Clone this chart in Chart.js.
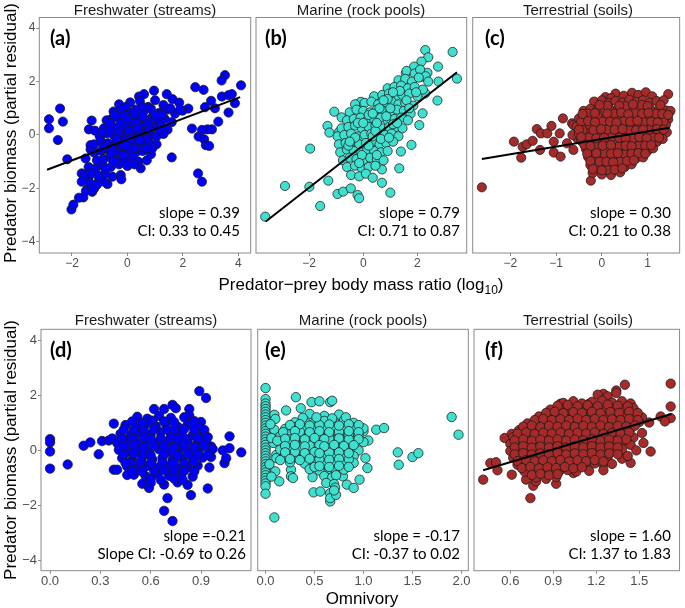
<!doctype html>
<html>
<head>
<meta charset="utf-8">
<title>Predator biomass panels</title>
<script src="https://cdn.jsdelivr.net/npm/chart.js@4.4.0/dist/chart.umd.min.js"></script>
<style>
  body { margin: 0; background: #fff; }
  #page { position: relative; width: 685px; height: 608px; overflow: hidden; }
  canvas { position: absolute; left: 0; top: 0; }
  .txt { position: absolute; white-space: nowrap; line-height: 1; }
  .strip { font-family: "Liberation Sans", Arial, sans-serif; font-size: 15px; color: #1a1a1a; transform: translate(-50%, -50%); }
  .axtitle { font-family: "Liberation Sans", Arial, sans-serif; font-size: 17px; color: #000; transform: translate(-50%, -50%); }
  .ytitle { transform: translate(-50%, -50%) rotate(-90deg); }
  .axtitle sub { font-size: 12px; vertical-align: -4px; line-height: 0; }
  .tag { font-family: Lato, sans-serif; font-weight: bold; font-size: 20px; color: #000; transform: translateY(-50%); }
  .stat { font-family: Lato, sans-serif; font-size: 15px; color: #000; transform: translate(-100%, -50%); }
</style>
</head>
<body>
<div id="page">
  <div class="txt strip" style="left:145px;top:9px">Freshwater (streams)</div>
  <div class="txt strip" style="left:361px;top:9px">Marine (rock pools)</div>
  <div class="txt strip" style="left:578px;top:9px">Terrestrial (soils)</div>
  <div class="txt strip" style="left:146px;top:319px">Freshwater (streams)</div>
  <div class="txt strip" style="left:363px;top:319px">Marine (rock pools)</div>
  <div class="txt strip" style="left:578px;top:319px">Terrestrial (soils)</div>

  <div class="txt axtitle ytitle" style="left:10px;top:133px">Predator biomass (partial residual)</div>
  <div class="txt axtitle ytitle" style="left:10px;top:450px">Predator biomass (partial residual)</div>
  <div class="txt axtitle" style="left:361px;top:284px">Predator−prey body mass ratio (log<sub>10</sub>)</div>
  <div class="txt axtitle" style="left:362px;top:598px">Omnivory</div>

  <div class="txt tag" style="left:50px;top:37px">(a)</div>
  <div class="txt tag" style="left:265px;top:37px">(b)</div>
  <div class="txt tag" style="left:485px;top:37px">(c)</div>
  <div class="txt tag" style="left:50px;top:349px">(d)</div>
  <div class="txt tag" style="left:265px;top:349px">(e)</div>
  <div class="txt tag" style="left:485px;top:349px">(f)</div>

  <div class="txt stat" style="left:240px;top:212px">slope = 0.39</div>
  <div class="txt stat" style="left:240px;top:230px">CI: 0.33 to 0.45</div>
  <div class="txt stat" style="left:460px;top:212px">slope = 0.79</div>
  <div class="txt stat" style="left:460px;top:230px">CI: 0.71 to 0.87</div>
  <div class="txt stat" style="left:671px;top:212px">slope = 0.30</div>
  <div class="txt stat" style="left:671px;top:230px">CI: 0.21 to 0.38</div>
  <div class="txt stat" style="left:246px;top:535px">slope =-0.21</div>
  <div class="txt stat" style="left:246px;top:553px">Slope CI: -0.69 to 0.26</div>
  <div class="txt stat" style="left:460px;top:535px">slope = -0.17</div>
  <div class="txt stat" style="left:460px;top:553px">CI: -0.37 to 0.02</div>
  <div class="txt stat" style="left:671px;top:535px">slope = 1.60</div>
  <div class="txt stat" style="left:671px;top:553px">CI: 1.37 to 1.83</div>
</div>

<script>
    // points: [x, partial residual]
    var streamsMass = [
        [-2.83,0.59],[-2.83,0.25],[-2.43,0.99],[-2.33,0.5],[-2.51,-0.19],[-2.17,-0.91],[-2.02,-2.79],[-1.95,-2.61],
        [-1.59,-2.34],[-1.65,-1.44],[-1.45,-2.04],[-1.39,-1.56],[-1.27,-2.13],[-1.2,-2.0],[-1.29,0.54],[-1.39,0.21],
        [-1.17,0.16],[-1.51,-0.88],[-1.33,-0.38],[-1.33,-0.54],[3.52,2.24],[3.4,2.04],[4.1,1.86],[2.45,1.79],
        [2.75,1.69],[0.96,1.66],[0.6,1.53],[0.42,1.44],[1.42,1.53],[1.63,1.34],[1.87,1.21],[3.02,1.28],
        [3.41,1.44],[3.65,1.49],[3.77,1.53],[3.88,1.19],[3.65,0.84],[3.16,1.0],[2.8,1.04],[2.2,0.99],
        [1.99,0.91],[3.28,0.5],[3.05,0.21],[2.89,0.21],[2.69,0.19],[2.33,0.24],[2.57,-0.06],[2.77,-0.16],
        [2.83,-0.38],[2.95,-0.41],[1.6,-0.84],[0.48,-1.25],[2.55,-1.44],[2.69,-1.75],[-0.54,-1.56],[-0.24,-1.5],
        [-0.22,-1.66],[-0.72,-1.84],[-0.84,-1.75],[-1.02,-1.69],
        [-0.3,1.15],[0.1,1.22],[0.45,1.27],[0.75,1.05],[1.0,1.3],[1.3,1.12],
        [-0.5,0.88],[-0.2,0.97],[0.05,0.84],[0.3,0.95],[0.6,0.9],[0.85,0.98],[1.15,0.83],[1.45,0.95],[1.72,0.8],
        [-0.75,0.55],[-0.55,0.62],[-0.3,0.66],[-0.1,0.52],[0.15,0.65],[0.4,0.58],[0.65,0.55],[0.9,0.67],[1.1,0.53],[1.35,0.6],[1.6,0.48],
        [-0.85,0.25],[-0.6,0.36],[-0.4,0.28],[-0.2,0.22],[0.0,0.37],[0.2,0.3],[0.45,0.33],[0.7,0.24],[0.95,0.31],[1.2,0.36],[1.45,0.2],
        [-1.0,-0.05],[-0.75,0.06],[-0.5,0.0],[-0.3,-0.07],[-0.05,0.05],[0.15,-0.02],[0.35,-0.05],[0.6,0.07],[0.85,0.0],[1.05,-0.06],[1.3,0.04],
        [-1.2,-0.35],[-0.95,-0.24],[-0.7,-0.31],[-0.45,-0.36],[-0.2,-0.24],[0.05,-0.3],[0.3,-0.36],[0.55,-0.25],[0.8,-0.31],[1.05,-0.35],
        [-1.2,-0.66],[-0.95,-0.6],[-0.7,-0.55],[-0.45,-0.66],[-0.2,-0.58],[0.05,-0.55],[0.3,-0.66],[0.55,-0.6],[0.85,-0.72],
        [-1.1,-0.95],[-0.85,-0.9],[-0.6,-0.84],[-0.35,-0.96],[-0.1,-0.9],[0.15,-0.85],[0.4,-1.0],[0.7,-0.95],
        [-1.4,-1.2],[-1.15,-1.26],[-0.9,-1.14],[-0.6,-1.2],[-0.3,-1.1],[0.0,-1.16],[0.25,-1.1],
        [-1.55,-1.5],[-1.3,-1.45],[-1.05,-1.52],[-0.8,-1.44],[-1.65,-1.75],[-1.35,-1.8],[-1.1,-1.86],[-1.5,-2.1],[-1.25,-2.05],[-1.75,-2.35],
        [-0.65,0.15],[-0.25,0.45],[0.25,0.8],[0.55,1.05],[0.05,0.15],[0.5,-0.45],[-0.55,-0.45],[0.2,-0.75],[-0.35,0.05],
        [0.75,0.4],[1.0,0.75],[-0.15,-0.45],[0.4,0.1],[-0.85,-0.45],[0.65,-0.15],[1.25,0.75],[0.9,-0.5],[1.55,1.0],[1.9,0.95],[-0.05,1.05],
        [-0.65,0.45],[-0.45,0.75],[-0.05,0.75],[0.3,0.45],[0.55,0.72],[0.8,0.2],[1.15,0.2],[-0.9,0.1],[-0.4,-0.15],[0.1,-0.15],
        [0.45,-0.2],[0.7,-0.5],[-0.6,-0.7],[-0.05,-0.4],[0.25,-0.5],[-0.8,-1.25],[-0.5,-1.0],[0.0,0.6],[0.35,0.25],[-0.15,-0.75]
    ];
    var poolsMass = [
        [-3.62,-3.06],[-2.89,-1.91],[-1.99,-1.94],[-1.59,-2.66],[-1.96,-0.51],[-1.29,-1.71],[-0.95,-2.21],[-0.74,-2.12],
        [-0.46,-2.0],[-0.21,-2.25],[-0.15,-2.37],[0.69,-1.79],[1.0,-2.16],[-1.07,0.87],[-0.8,0.66],[-1.32,0.34],
        [-1.25,0.09],[-0.89,0.12],[-0.86,-0.1],[-0.09,1.24],[0.44,1.31],[2.74,1.29],[2.76,2.56],[3.3,3.11],
        [3.46,2.11],[2.78,2.0],[2.29,3.18],[2.4,2.91],[2.15,2.75],[2.37,2.33],[1.88,2.56],[2.16,2.18],
        [1.57,2.31],[2.19,0.81],[2.29,1.56],[1.78,-0.37],[1.39,-0.62],[2.07,0.37],[1.33,-1.25],[0.69,-1.29],
        [1.6,2.4],[1.9,2.3],[2.1,2.45],[2.3,2.2],
        [1.3,2.05],[1.55,2.1],[1.8,2.0],[2.05,2.15],[2.4,2.0],
        [0.9,1.75],[1.15,1.8],[1.4,1.85],[1.65,1.75],[1.9,1.8],[2.2,1.7],
        [0.4,1.45],[0.7,1.5],[0.95,1.55],[1.2,1.45],[1.45,1.5],[1.7,1.55],[2.0,1.45],
        [-0.3,1.15],[0.05,1.2],[0.3,1.25],[0.55,1.15],[0.8,1.2],[1.05,1.25],[1.3,1.15],[1.55,1.2],[1.85,1.1],
        [-0.5,0.85],[-0.25,0.95],[0.0,0.9],[0.25,0.85],[0.5,0.95],[0.75,0.9],[1.0,0.85],[1.25,0.95],[1.5,0.9],[1.75,0.8],
        [-0.6,0.55],[-0.35,0.6],[-0.1,0.65],[0.15,0.55],[0.4,0.6],[0.65,0.65],[0.9,0.55],[1.15,0.6],[1.4,0.65],[1.65,0.55],
        [-0.8,0.25],[-0.55,0.3],[-0.3,0.35],[-0.05,0.25],[0.2,0.3],[0.45,0.35],[0.7,0.25],[0.95,0.3],[1.2,0.3],[1.45,0.25],
        [-0.95,-0.05],[-0.7,0.0],[-0.45,0.05],[-0.2,-0.05],[0.05,0.0],[0.3,0.05],[0.55,-0.05],[0.8,0.0],[1.05,0.05],[1.3,-0.05],
        [-0.9,-0.35],[-0.65,-0.3],[-0.4,-0.25],[-0.15,-0.35],[0.1,-0.3],[0.35,-0.25],[0.6,-0.35],[0.85,-0.3],[1.1,-0.25],
        [-0.85,-0.65],[-0.6,-0.55],[-0.35,-0.6],[-0.1,-0.65],[0.15,-0.55],[0.4,-0.6],[0.65,-0.65],[0.9,-0.6],
        [-0.75,-0.95],[-0.5,-0.85],[-0.25,-0.9],[0.0,-0.95],[0.25,-0.85],[0.5,-0.9],[0.75,-0.95],
        [-0.6,-1.2],[-0.3,-1.15],[-0.05,-1.25],[0.2,-1.2],[0.45,-1.15],
        [-0.45,-1.5],[-0.15,-1.55],[0.1,-1.45],[0.35,-1.6],
        [0.2,0.75],[0.6,1.0],[0.9,1.35],[1.1,0.4],[0.35,-0.05],[-0.2,0.45],[0.65,-0.15],[-0.55,-0.4],[1.35,1.65],
        [0.45,0.15],[1.0,1.0],[-0.05,-0.75],
        [0.0,0.45],[0.35,0.8],[0.75,1.3],[1.1,1.6],[1.6,1.3],[0.5,0.45],[0.85,0.7],[-0.3,-0.1],[0.2,-0.4],[0.5,-0.75],
        [-0.15,-1.05],[-0.5,-0.25],[1.25,0.45],[0.95,-0.1],[1.7,1.0],[1.95,1.6]
    ];
    var soilsMass = [
        [-2.62,-1.96],[-1.92,-0.25],[-1.76,-0.85],[-1.73,-0.44],[-1.64,-0.35],[-1.51,-0.22],[-1.42,0.22],[-1.35,-0.56],
        [-1.33,0.06],[-1.19,0.06],[-1.1,0.34],[-1.05,-0.25],[-1.05,-0.66],[-0.92,0.06],[-0.9,-0.81],[-0.85,0.62],
        [-0.76,-0.31],[-0.65,0.44],[-0.62,-0.56],[-0.54,-0.12],[-0.24,-1.71],[-0.62,0.37],[-0.64,0.0],
        [0.08,1.42],[0.3,1.55],[0.48,1.47],[0.66,1.58],[0.8,1.5],[0.96,1.6],[1.1,1.45],[1.45,1.53],[0.2,1.38],
        [-0.17,1.25],[0.0,1.3],[0.15,1.2],[0.3,1.28],[0.45,1.22],[0.6,1.32],[0.75,1.24],[0.9,1.3],[1.05,1.21],[1.2,1.27],[1.35,1.3],
        [-0.4,0.9],[-0.25,0.98],[-0.1,0.93],[0.05,1.0],[0.2,0.92],[0.35,0.97],[0.5,0.9],[0.65,1.0],[0.8,0.94],[0.95,0.99],[1.1,0.9],[1.25,0.96],[1.4,0.92],[1.5,0.9],
        [-0.5,0.62],[-0.35,0.68],[-0.2,0.6],[-0.05,0.66],[0.1,0.7],[0.25,0.62],[0.4,0.67],[0.55,0.6],[0.7,0.69],[0.85,0.63],[1.0,0.66],[1.15,0.61],[1.3,0.68],[1.45,0.58],
        [-0.55,0.32],[-0.4,0.38],[-0.25,0.3],[-0.1,0.36],[0.05,0.33],[0.2,0.4],[0.35,0.31],[0.5,0.37],[0.65,0.32],[0.8,0.38],[0.95,0.3],[1.1,0.36],[1.25,0.33],[1.4,0.38],
        [-0.5,0.02],[-0.35,0.08],[-0.2,0.0],[-0.05,0.06],[0.1,0.03],[0.25,0.09],[0.4,0.01],[0.55,0.07],[0.7,0.02],[0.85,0.08],[1.0,0.0],[1.15,0.06],[1.3,0.03],[1.42,0.1],
        [-0.45,-0.22],[-0.3,-0.28],[-0.15,-0.2],[0.0,-0.27],[0.15,-0.23],[0.3,-0.3],[0.45,-0.21],[0.6,-0.27],[0.75,-0.24],[0.9,-0.29],[1.05,-0.2],[1.2,-0.26],[1.33,-0.15],
        [-0.35,-0.52],[-0.2,-0.58],[-0.05,-0.5],[0.1,-0.56],[0.25,-0.53],[0.4,-0.6],[0.55,-0.51],[0.7,-0.57],[0.85,-0.54],[1.0,-0.59],[1.12,-0.5],
        [-0.3,-0.82],[-0.15,-0.88],[0.0,-0.8],[0.15,-0.86],[0.3,-0.83],[0.45,-0.9],[0.6,-0.81],[0.75,-0.87],[0.9,-0.84],
        [-0.25,-1.12],[-0.1,-1.18],[0.05,-1.1],[0.2,-1.16],[0.35,-1.13],[0.5,-1.2],[0.65,-1.1],
        [-0.2,-1.42],[0.0,-1.48],[0.2,-1.5],[0.4,-1.4],
        [0.12,1.1],[0.52,1.08],[0.88,1.12],[-0.3,0.8],[0.28,0.8],[0.72,0.82],[1.18,0.8],[-0.45,0.5],[0.02,0.5],[0.48,0.52],
        [0.92,0.48],[1.35,0.5],[-0.42,0.18],[0.12,0.2],[0.6,0.18],[1.05,0.2],[-0.27,-0.1],[0.22,-0.08],[0.68,-0.12],[1.12,-0.1],
        [-0.12,-0.4],[0.38,-0.42],[0.82,-0.4],[0.05,-0.7],[0.5,-0.72],[-0.05,-1.0],[0.4,-1.0],[0.12,-1.3],
        [-0.05,1.12],[0.38,1.1],[0.68,1.14],[1.0,1.08],[1.28,1.12],
        [-0.42,0.78],[-0.15,0.82],[0.12,0.8],[0.42,0.84],[0.58,0.78],[0.88,0.8],[1.02,0.83],[1.32,0.79],[1.45,0.75],
        [-0.3,0.52],[-0.15,0.48],[0.18,0.5],[0.32,0.47],[0.62,0.5],[0.78,0.53],[1.08,0.5],[1.22,0.47],
        [-0.5,0.2],[-0.18,0.18],[-0.02,0.22],[0.28,0.2],[0.45,0.22],[0.75,0.18],[0.9,0.2],[1.2,0.22],[1.35,0.2],
        [-0.45,-0.08],[-0.12,-0.12],[0.05,-0.1],[0.38,-0.1],[0.52,-0.12],[0.82,-0.08],[0.98,-0.12],[1.25,-0.1],
        [-0.38,-0.38],[-0.25,-0.42],[0.02,-0.4],[0.2,-0.38],[0.52,-0.4],[0.65,-0.42],[0.95,-0.4],[1.08,-0.38],
        [-0.32,-0.7],[-0.12,-0.68],[0.2,-0.7],[0.35,-0.68],[0.65,-0.7],[0.8,-0.68],[0.95,-0.7],
        [-0.25,-0.98],[0.1,-1.0],[0.25,-1.02],[0.55,-0.98],[0.7,-0.95],
        [-0.2,-1.28],[0.0,-1.32],[0.28,-1.3],[0.45,-1.25]
    ];
    var streamsOmni = [
        [0,0.41],[0,0.29],[0,-0.04],[0,-0.66],[0.105,-0.51],[0.2,0.17],[0.24,0.29],[0.29,-0.14],[0.31,0.34],[0.35,0.36],
        [0.37,0.43],[0.38,0.97],[0.38,-0.7],[0.4,-0.7],[0.46,-0.89],[0.55,-1.21],[0.59,-1.36],[0.62,1.5],[0.68,1.5],
        [0.73,1.65],[0.75,1.53],[0.83,1.5],[0.83,1.26],[0.89,2.15],[0.93,1.9],[0.9,1.03],[0.7,-1.73],[0.68,-2.19],
        [0.73,-2.56],[0.84,-1.62],[0.94,-1.38],[0.95,-0.62],[1.03,0.0],[1.07,0.08],[1.07,0.51],[1.14,-0.07],[1.04,-0.46],
        [1.05,-0.28],[0.96,-0.24],[0.96,0.14],[0.97,0.05],
        [0.52,1.22],[0.58,1.15],[0.65,1.25],[0.72,1.18],[0.8,1.2],
        [0.45,0.92],[0.51,0.85],[0.57,0.95],[0.63,0.88],[0.69,0.96],[0.76,0.86],[0.82,0.93],[0.88,0.9],
        [0.42,0.6],[0.48,0.55],[0.54,0.64],[0.6,0.57],[0.66,0.66],[0.72,0.58],[0.78,0.62],[0.85,0.55],[0.91,0.62],
        [0.4,0.27],[0.46,0.33],[0.52,0.26],[0.58,0.35],[0.64,0.28],[0.7,0.32],[0.76,0.25],[0.82,0.34],[0.88,0.29],[0.93,0.36],
        [0.41,0.02],[0.47,-0.04],[0.53,0.05],[0.59,-0.02],[0.65,0.04],[0.71,-0.05],[0.77,0.03],[0.83,-0.03],[0.89,0.05],
        [0.43,-0.28],[0.49,-0.34],[0.55,-0.26],[0.61,-0.33],[0.67,-0.27],[0.73,-0.35],[0.79,-0.29],[0.85,-0.32],[0.91,-0.26],
        [0.46,-0.58],[0.52,-0.64],[0.58,-0.56],[0.64,-0.63],[0.7,-0.57],[0.76,-0.65],[0.82,-0.6],[0.88,-0.55],
        [0.5,-0.88],[0.57,-0.94],[0.64,-0.86],[0.71,-0.92],[0.78,-0.89],[0.85,-0.95],
        [0.6,-1.18],[0.68,-1.24],[0.76,-1.16],[0.82,-1.25],
        [0.55,1.0],[0.7,0.75],[0.5,0.45],[0.62,0.15],[0.8,0.45],[0.55,-0.15],[0.74,-0.45],[0.62,-0.75],[0.68,1.05],
        [0.86,0.75],[0.48,-0.45],[0.88,-0.15],[0.5,0.75],[0.66,0.45],
        [0.49,1.05],[0.61,1.08],[0.74,1.03],[0.86,1.06],
        [0.44,0.76],[0.56,0.72],[0.62,0.78],[0.74,0.74],[0.8,0.78],[0.92,0.74],
        [0.43,0.43],[0.56,0.47],[0.6,0.42],[0.72,0.46],[0.76,0.42],[0.88,0.45],[0.94,0.48],
        [0.44,0.14],[0.5,0.18],[0.56,0.13],[0.68,0.17],[0.74,0.12],[0.8,0.16],[0.86,0.13],[0.92,0.17],
        [0.44,-0.16],[0.5,-0.12],[0.6,-0.18],[0.68,-0.14],[0.76,-0.17],[0.82,-0.12],[0.94,-0.15],
        [0.45,-0.46],[0.54,-0.42],[0.6,-0.47],[0.67,-0.43],[0.8,-0.47],[0.86,-0.43],
        [0.49,-0.74],[0.55,-0.77],[0.68,-0.72],[0.74,-0.78],[0.8,-0.74],[0.86,-0.76],
        [0.6,-1.04],[0.66,-1.07],[0.74,-1.02],[0.79,-1.06]
    ];
    var poolsOmni = [
        [0,2.26],[0,1.86],[0,1.7],[0,1.6],[0,1.5],[0,1.4],[0,1.3],[0,1.2],[0,1.1],[0,1.0],[0,0.9],[0,0.8],[0,0.7],
        [0,0.6],[0,0.5],[0,0.4],[0,0.3],[0,0.2],[0,0.1],[0,0.0],[0,-0.1],[0,-0.2],[0,-0.3],[0,-0.4],[0,-0.5],[0,-0.6],
        [0,-0.7],[0,-0.8],[0,-0.9],[0,-1.0],[0,-1.1],[0,-1.2],[0,-1.3],[0,-1.57],
        [0.09,1.29],[0.1,1.14],[0.09,0.75],[0.08,0.27],[0.11,-0.16],[0.1,-0.76],[0.14,-1.12],[0.11,-0.28],[0.05,0.95],
        [0.06,0.45],[0.04,-0.5],[0.06,-0.95],[0.09,-2.43],
        [0.31,1.93],[0.21,1.45],[0.47,1.75],[0.55,1.78],[0.66,1.75],[0.68,1.8],[0.36,1.53],[0.18,0.05],[0.26,-0.7],
        [0.26,-0.94],[0.28,-1.0],[0.48,-0.97],[0.49,-1.52],[0.56,-1.49],[0.66,-1.55],[0.66,-1.85],[0.66,-1.73],[0.72,-1.61],
        [0.79,-0.94],[0.83,-1.24],[0.9,-1.36],[0.96,-1.06],[1.04,-0.64],[1.02,-0.28],[1.0,0.69],[1.05,0.36],[1.13,0.75],
        [1.21,0.81],[1.35,-0.07],[1.36,-0.52],[1.5,-0.24],[1.56,-0.1],[1.9,1.21],[1.97,0.57],
        [0.45,1.32],[0.6,1.25],[0.75,1.3],
        [0.3,1.02],[0.4,1.08],[0.5,1.0],[0.6,1.07],[0.7,1.03],[0.8,1.09],[0.9,1.0],
        [0.2,0.78],[0.3,0.84],[0.4,0.76],[0.5,0.83],[0.6,0.79],[0.7,0.85],[0.8,0.77],[0.9,0.82],[1.0,0.8],
        [0.15,0.52],[0.25,0.58],[0.35,0.5],[0.45,0.57],[0.55,0.53],[0.65,0.59],[0.75,0.51],[0.85,0.56],[0.95,0.54],
        [0.2,0.28],[0.3,0.34],[0.4,0.26],[0.5,0.33],[0.6,0.29],[0.7,0.35],[0.8,0.27],[0.9,0.32],[1.0,0.3],
        [0.15,0.03],[0.25,0.08],[0.35,0.01],[0.45,0.07],[0.55,0.02],[0.65,0.09],[0.75,0.04],[0.85,0.06],[0.95,0.0],
        [0.2,-0.18],[0.3,-0.24],[0.4,-0.16],[0.5,-0.22],[0.6,-0.19],[0.7,-0.25],[0.8,-0.17],[0.9,-0.21],
        [0.25,-0.43],[0.4,-0.48],[0.5,-0.42],[0.6,-0.47],[0.7,-0.44],[0.8,-0.49],[0.9,-0.45],
        [0.45,-0.68],[0.55,-0.73],[0.65,-0.67],[0.72,-0.72],[0.8,-0.7],
        [0.6,-0.93],[0.68,-0.98],[0.72,-0.9],
        [0.62,-1.18],[0.7,-1.22],[0.71,-1.35],[0.7,-1.45],
        [0.35,0.68],[0.55,0.92],[0.75,0.68],[0.25,0.4],[0.65,0.42],[0.85,0.4],[0.45,0.18],[0.3,-0.05],[0.65,-0.08],
        [0.85,-0.32],[0.55,-0.32],[0.5,-0.6],[0.12,0.35],[0.15,-0.35],
        [0.38,1.18],[0.52,1.2],[0.68,1.16],[0.82,1.2],
        [0.25,0.92],[0.35,0.95],[0.45,0.9],[0.65,0.94],[0.75,0.9],[0.85,0.95],[0.95,0.92],
        [0.18,0.66],[0.3,0.7],[0.45,0.66],[0.55,0.7],[0.65,0.66],[0.85,0.7],[0.95,0.66],
        [0.2,0.42],[0.3,0.45],[0.4,0.4],[0.5,0.45],[0.6,0.41],[0.75,0.44],[0.95,0.41],
        [0.2,0.16],[0.3,0.2],[0.4,0.15],[0.55,0.19],[0.6,0.15],[0.7,0.2],[0.8,0.16],[0.9,0.19],
        [0.2,-0.07],[0.4,-0.1],[0.5,-0.06],[0.55,-0.1],[0.75,-0.07],[0.85,-0.1],
        [0.25,-0.31],[0.35,-0.35],[0.45,-0.3],[0.65,-0.34],[0.75,-0.31],
        [0.55,-0.57],[0.65,-0.6],[0.75,-0.56],[0.85,-0.6]
    ];
    var soilsOmni = [
        [0.41,-1.06],[1.72,2.42],[1.72,1.59],[1.72,1.17],[1.65,1.23],[1.68,1.05],[1.4,2.38],[1.34,2.17],[1.25,2.05],
        [0.74,-1.73],[0.56,0.45],[0.61,0.6],[0.66,0.6],[0.66,0.33],[0.46,-0.46],[0.5,-0.43],[0.51,-0.72],[0.61,-0.88],
        [0.71,-1.06],[0.76,-1.28],[0.78,-1.12],[0.92,-1.21],[1.04,-0.82],[1.53,0.27],[1.58,-0.04],[1.52,0.63],[1.57,1.01],
        [1.48,1.35],[0.95,1.69],[0.9,1.41],[1.15,1.69],[1.21,2.02],
        [1.28,1.96],[1.34,2.08],
        [0.97,1.72],[1.04,1.78],[1.1,1.7],[1.17,1.76],[1.24,1.8],[1.31,1.73],[1.38,1.78],[1.44,1.7],
        [0.88,1.48],[0.94,1.53],[1.0,1.45],[1.07,1.52],[1.13,1.47],[1.2,1.55],[1.26,1.46],[1.33,1.51],[1.39,1.48],[1.46,1.53],
        [0.8,1.23],[0.86,1.28],[0.92,1.22],[0.98,1.27],[1.04,1.24],[1.1,1.3],[1.16,1.21],[1.22,1.26],[1.28,1.23],[1.34,1.29],[1.4,1.22],[1.46,1.27],[1.52,1.2],
        [0.72,0.98],[0.78,1.03],[0.84,0.96],[0.9,1.02],[0.96,0.99],[1.02,1.04],[1.08,0.97],[1.14,1.02],[1.2,0.98],[1.26,1.03],[1.32,0.96],[1.38,1.01],[1.44,0.97],[1.5,1.03],
        [0.66,0.73],[0.72,0.78],[0.78,0.71],[0.84,0.77],[0.9,0.74],[0.96,0.79],[1.02,0.72],[1.08,0.77],[1.14,0.73],[1.2,0.78],[1.26,0.71],[1.32,0.76],[1.38,0.74],[1.44,0.79],
        [0.62,0.48],[0.68,0.53],[0.74,0.46],[0.8,0.52],[0.86,0.49],[0.92,0.54],[0.98,0.47],[1.04,0.52],[1.1,0.48],[1.16,0.53],[1.22,0.46],[1.28,0.51],[1.34,0.49],[1.4,0.54],[1.46,0.47],
        [0.6,0.23],[0.66,0.28],[0.72,0.21],[0.78,0.27],[0.84,0.24],[0.9,0.29],[0.96,0.22],[1.02,0.27],[1.08,0.23],[1.14,0.28],[1.2,0.21],[1.26,0.26],[1.32,0.24],[1.38,0.29],[1.44,0.2],
        [0.6,-0.02],[0.66,0.03],[0.72,-0.04],[0.78,0.02],[0.84,-0.01],[0.9,0.04],[0.96,-0.03],[1.02,0.02],[1.08,-0.02],[1.14,0.03],[1.2,-0.04],[1.26,0.01],[1.32,-0.02],[1.38,0.05],
        [0.62,-0.27],[0.68,-0.22],[0.74,-0.29],[0.8,-0.23],[0.86,-0.26],[0.92,-0.21],[0.98,-0.28],[1.04,-0.23],[1.1,-0.27],[1.16,-0.22],[1.22,-0.28],[1.28,-0.24],
        [0.65,-0.52],[0.71,-0.47],[0.77,-0.54],[0.83,-0.48],[0.89,-0.51],[0.95,-0.46],[1.01,-0.53],[1.07,-0.48],[1.13,-0.5],[1.19,-0.47],[1.25,-0.52],[1.31,-0.49],
        [0.7,-0.77],[0.76,-0.72],[0.82,-0.79],[0.88,-0.73],[0.94,-0.76],[1.0,-0.71],[1.06,-0.77],[1.15,-0.74],[1.25,-0.72],
        [0.78,-0.98],[0.85,-1.03],[0.92,-0.97],
        [1.38,-0.3],[1.44,-0.45],[1.42,-0.2],[1.48,0.0],
        [0.93,1.62],[1.0,1.65],[1.07,1.6],[1.14,1.64],[1.21,1.6],[1.28,1.66],[1.35,1.62],[1.42,1.6],
        [0.85,1.36],[0.91,1.4],[0.97,1.35],[1.04,1.39],[1.1,1.36],[1.17,1.4],[1.23,1.35],[1.3,1.39],[1.36,1.36],[1.43,1.4],[1.49,1.36],
        [0.77,1.1],[0.83,1.14],[0.89,1.1],[0.95,1.13],[1.01,1.1],[1.07,1.15],[1.13,1.1],[1.19,1.14],[1.25,1.1],[1.31,1.13],[1.37,1.1],[1.43,1.14],[1.49,1.1],
        [0.69,0.86],[0.75,0.9],[0.81,0.85],[0.87,0.89],[0.93,0.86],[0.99,0.9],[1.05,0.85],[1.11,0.89],[1.17,0.86],[1.23,0.9],[1.29,0.85],[1.35,0.89],[1.41,0.86],[1.47,0.9],
        [0.65,0.61],[0.71,0.65],[0.77,0.6],[0.83,0.64],[0.89,0.61],[0.95,0.65],[1.01,0.6],[1.07,0.64],[1.13,0.61],[1.19,0.65],[1.25,0.6],[1.31,0.64],[1.37,0.61],[1.43,0.65],
        [0.63,0.36],[0.69,0.4],[0.75,0.35],[0.81,0.39],[0.87,0.36],[0.93,0.4],[0.99,0.35],[1.05,0.39],[1.11,0.36],[1.17,0.4],[1.23,0.35],[1.29,0.39],[1.35,0.36],[1.41,0.4],
        [0.63,0.11],[0.69,0.15],[0.75,0.1],[0.81,0.14],[0.87,0.11],[0.93,0.15],[0.99,0.1],[1.05,0.14],[1.11,0.11],[1.17,0.15],[1.23,0.1],[1.29,0.14],[1.35,0.11],
        [0.63,-0.14],[0.69,-0.1],[0.75,-0.15],[0.81,-0.11],[0.87,-0.14],[0.93,-0.1],[0.99,-0.15],[1.05,-0.11],[1.11,-0.14],[1.17,-0.1],[1.23,-0.15],[1.29,-0.11],[1.35,-0.14],
        [0.65,-0.39],[0.71,-0.35],[0.77,-0.4],[0.83,-0.36],[0.89,-0.39],[0.95,-0.35],[1.01,-0.4],[1.07,-0.36],[1.13,-0.39],[1.19,-0.35],[1.25,-0.4],
        [0.68,-0.64],[0.74,-0.6],[0.8,-0.65],[0.86,-0.61],[0.92,-0.64],[0.98,-0.6],[1.04,-0.65],[1.1,-0.61],
        [0.75,-0.89],[0.81,-0.85],[0.87,-0.9],[0.93,-0.86]
    ];

    // fitted lines (end points); (d) and (e) have none
    var fitStreamsMass = [[-2.9,-1.3],[4.07,1.42]];
    var fitPoolsMass = [[-3.6,-3.24],[3.46,2.35]];
    var fitSoilsMass = [[-2.62,-0.9],[1.48,0.27]];
    var fitSoilsOmni = [[0.41,-0.72],[1.725,1.32]];

    // tick values
    var residTicks = [-4, -2, 0, 2, 4];
    var streamsMassTicks = [-2, 0, 2, 4];
    var poolsMassTicks = [-2, 0, 2];
    var soilsMassTicks = [-2, -1, 0, 1];
    var streamsOmniTicks = [0, 0.3, 0.6, 0.9];
    var poolsOmniTicks = [0, 0.5, 1, 1.5, 2];
    var soilsOmniTicks = [0.6, 0.9, 1.2, 1.5];

    var BLUE = '#0000ff', TURQ = '#40e0d0', BROWN = '#a52a2a';

    var minusFmt = function(v) { return v < 0 ? '\u2212' + Math.abs(v) : String(v); };
    var oneDec = function(v) { return v.toFixed(1); };

    var framePlugin = {
        id: 'frame',
        afterDatasetsDraw: function(chart) {
            var a = chart.chartArea, ctx = chart.ctx;
            ctx.save();
            ctx.strokeStyle = '#8a8a8a';
            ctx.lineWidth = 1;
            ctx.strokeRect(a.left, a.top, a.right - a.left, a.bottom - a.top);
            ctx.restore();
        }
    };

    // area = [left, top, right, bottom] of the panel box in page pixels
    var panels = [
        { pts: streamsMass, fit: fitStreamsMass, color: BLUE, xr: [-3.18, 4.45], yr: [-4.42, 4.4], xt: streamsMassTicks, fmt: minusFmt, area: [39.3, 17.5, 250.7, 253], showY: true, fs: 12, r: 4.6 },
        { pts: poolsMass, fit: fitPoolsMass, color: TURQ, xr: [-3.96, 3.82], yr: [-4.42, 4.4], xt: poolsMassTicks, fmt: minusFmt, area: [256, 17.5, 466.7, 253], showY: false, fs: 12, r: 4.6 },
        { pts: soilsMass, fit: fitSoilsMass, color: BROWN, xr: [-2.82, 1.7], yr: [-4.42, 4.4], xt: soilsMassTicks, fmt: minusFmt, area: [472.7, 17.5, 683, 253], showY: false, fs: 12, r: 4.6 },
        { pts: streamsOmni, fit: null, color: BLUE, xr: [-0.054, 1.198], yr: [-4.36, 4.39], xt: streamsOmniTicks, fmt: oneDec, area: [41, 329.3, 251, 570.7], showY: true, fs: 13, r: 4.7 },
        { pts: poolsOmni, fit: null, color: TURQ, xr: [-0.08, 2.07], yr: [-4.36, 4.39], xt: poolsOmniTicks, fmt: oneDec, area: [257.7, 329.3, 468.3, 570.7], showY: false, fs: 13, r: 4.7 },
        { pts: soilsOmni, fit: fitSoilsOmni, color: BROWN, xr: [0.346, 1.782], yr: [-4.36, 4.39], xt: soilsOmniTicks, fmt: oneDec, area: [474, 329.3, 683, 570.7], showY: false, fs: 13, r: 4.7 }
    ];

    var page = document.getElementById('page');

    panels.forEach(function(p) {
        var cv = document.createElement('canvas');
        cv.width = 685;
        cv.height = 608;
        page.insertBefore(cv, page.firstChild);

        var L = p.area[0], T = p.area[1], R = p.area[2], B = p.area[3];
        var yW = p.showY ? 30 : 0;
        var xH = 20;
        var tickFont = { family: '"Liberation Sans", Arial, sans-serif', size: p.fs };

        var datasets = [];
        if (p.fit) {
            datasets.push({
                data: p.fit.map(function(d) { return { x: d[0], y: d[1] }; }),
                showLine: true,
                borderColor: '#000',
                borderWidth: 2,
                pointRadius: 0,
                fill: false
            });
        }
        datasets.push({
            data: p.pts.map(function(d) { return { x: d[0], y: d[1] }; }),
            backgroundColor: p.color,
            borderColor: '#1a1a1a',
            borderWidth: 0.75,
            pointRadius: p.r
        });

        new Chart(cv.getContext('2d'), {
            type: 'scatter',
            data: { datasets: datasets },
            options: {
                responsive: false,
                animation: false,
                events: [],
                layout: { padding: { left: L - yW, top: T, right: 685 - R, bottom: 608 - B - xH } },
                plugins: { legend: { display: false }, tooltip: { enabled: false } },
                scales: {
                    x: {
                        type: 'linear',
                        min: p.xr[0],
                        max: p.xr[1],
                        afterFit: function(s) { s.height = xH; },
                        afterBuildTicks: function(s) { s.ticks = p.xt.map(function(v) { return { value: v }; }); },
                        ticks: {
                            autoSkip: false, maxRotation: 0, padding: 0,
                            color: '#4d4d4d', font: tickFont,
                            callback: function(v) { return p.fmt(v); }
                        },
                        grid: { drawOnChartArea: false, tickLength: 3, color: '#8a8a8a' },
                        border: { display: false }
                    },
                    y: {
                        type: 'linear',
                        display: p.showY,
                        min: p.yr[0],
                        max: p.yr[1],
                        afterFit: function(s) { s.width = yW; },
                        afterBuildTicks: function(s) { s.ticks = residTicks.map(function(v) { return { value: v }; }); },
                        ticks: {
                            autoSkip: false, padding: 1,
                            color: '#4d4d4d', font: tickFont,
                            callback: function(v) { return minusFmt(v); }
                        },
                        grid: { drawOnChartArea: false, tickLength: 3, color: '#8a8a8a' },
                        border: { display: false }
                    }
                }
            },
            plugins: [framePlugin]
        });
    });
</script>
</body>
</html>
